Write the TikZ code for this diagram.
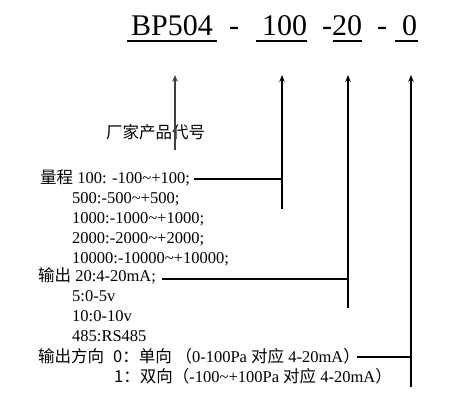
\documentclass[tikz,border=0pt]{standalone}
\usepackage{fontspec}
\setmainfont{Liberation Serif}
\newfontfamily\cjk{Noto Sans CJK SC}
\usetikzlibrary{arrows.meta}
\begin{document}
\begin{tikzpicture}[x=1pt,y=-1pt,
 txt/.style={anchor=base west,inner sep=0pt,font=\fontsize{16.5}{20}\selectfont},
 ttl/.style={anchor=base west,inner sep=0pt,font=\fontsize{30}{36}\selectfont},
 uline/.style={line width=1.4pt},
 conn/.style={line width=1.2pt},
 arr/.style={conn,-{Stealth[length=7pt,width=5.5pt,inset=2.5pt]}}]
\useasboundingbox (0,0) rectangle (470,415);
% title
\node[ttl] (bp) at (131,35) {BP504};
\node[ttl] (d1) at (229,35) {-};
\node[ttl] (r) at (262,35) {100};
\node[ttl] (d2) at (322,35) {-};
\node[ttl] (o) at (332,35) {20};
\node[ttl] (d3) at (377,35) {-};
\node[ttl] (z) at (402,35) {0};
\coordinate (u1a) at (127,41); \coordinate (u1b) at (217,41);
\coordinate (u2a) at (256,41); \coordinate (u2b) at (307,41);
\coordinate (u3a) at (333,41); \coordinate (u3b) at (362,41);
\coordinate (u4a) at (395,41); \coordinate (u4b) at (418,41);
\draw[uline] (u1a) -- (u1b);
\draw[uline] (u2a) -- (u2b);
\draw[uline] (u3a) -- (u3b);
\draw[uline] (u4a) -- (u4b);
% texts
\node[txt] (mfr) at (106,138) {\cjk 厂家产品代号};
\node[txt] (rng) at (40,183) {{\cjk 量程} 100: -100\textasciitilde+100;};
\node[txt] (r2) at (72,203) {500:-500\textasciitilde+500;};
\node[txt] (r3) at (72,223) {1000:-1000\textasciitilde+1000;};
\node[txt] (r4) at (72,243) {2000:-2000\textasciitilde+2000;};
\node[txt] (r5) at (72,263) {10000:-10000\textasciitilde+10000;};
\node[txt] (out) at (38,281) {{\cjk 输出} 20:4-20mA;};
\node[txt] (o2) at (72,301) {5:0-5v};
\node[txt] (o3) at (72,321) {10:0-10v};
\node[txt] (o4) at (72,341) {485:RS485};
\node[txt] (dirl) at (38,362) {\cjk 输出方向};
\node[txt] (dir0) at (113,362) {{\cjk 0：单向 （}0-100Pa {\cjk 对应} 4-20mA{\cjk ）}};
\node[txt] (dir1) at (114,382) {{\cjk 1：双向（}-100\textasciitilde+100Pa {\cjk 对应} 4-20mA{\cjk ）}};
% connectors
\coordinate (t1) at (175,75); \coordinate (b1) at (175,150);
\coordinate (t2) at (282,75); \coordinate (b2) at (282,209); \coordinate (j2) at (282,179); \coordinate (h2) at (194,179);
\coordinate (t3) at (348,75); \coordinate (b3) at (348,308); \coordinate (j3) at (348,279); \coordinate (h3) at (162,279);
\coordinate (t4) at (411,75); \coordinate (b4) at (411,387); \coordinate (j4) at (411,357); \coordinate (h4) at (357,357);
\draw[arr,black!75,line width=1.8pt] (b1) -- (t1);
\draw[arr] (b2) -- (t2);
\draw[arr] (b3) -- (t3);
\draw[arr] (b4) -- (t4);
\draw[conn] (h2) -- (j2);
\draw[conn] (h3) -- (j3);
\draw[conn] (h4) -- (j4);
\end{tikzpicture}
\end{document}
